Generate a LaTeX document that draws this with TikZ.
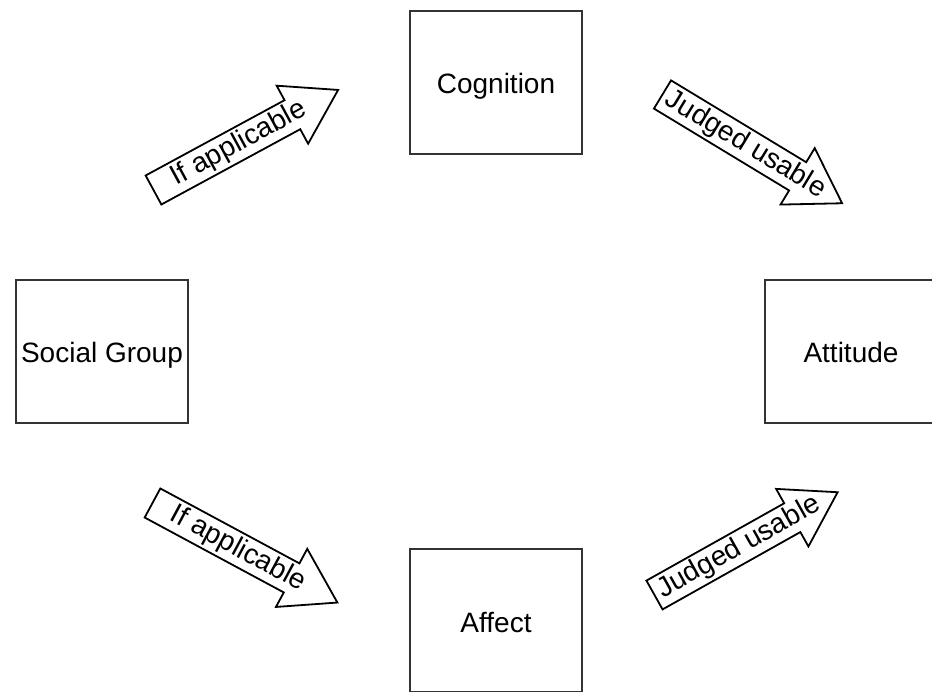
\documentclass[tikz,border=0pt]{standalone}
\usepackage{fontspec}
\setmainfont{Liberation Sans}
\tikzset{
  conceptbox/.style={draw=black!80, line width=2pt, minimum width=172pt, minimum height=143pt,
    inner sep=0pt, text height=25pt, text depth=2pt, font=\fontsize{28}{32}\selectfont, fill=white},
  arrowline/.style={draw=black, line width=1.8pt, line join=miter, fill=white},
  arrowtext/.style={font=\fontsize{28}{32}\selectfont, inner sep=0pt, anchor=center}
}
% block arrow: name, tail-middle x, y, angle, text
\newcommand{\blockarrow}[5]{%
  \begin{scope}[shift={(#2,#3)}, rotate=#4, transform shape]
    \coordinate (#1-tail) at (0,0);
    \coordinate (#1-tip) at (210,0);
    \draw[arrowline] (0,-16.5) -- (158,-16.5) -- (158,-33) -- (#1-tip) -- (158,33) -- (158,16.5) -- (0,16.5) -- cycle;
    \node[arrowtext] (#1) at (97,0) {#5};
  \end{scope}}
\begin{document}
\begin{tikzpicture}[x=1pt,y=1pt]
  \clip (0,0) rectangle (932,-692);
  \fill[white] (0,0) rectangle (932,-692);
  \node[conceptbox] (cog) at (496,-82.5) {Cognition};
  \node[conceptbox] (aff) at (496,-620.5) {Affect};
  \node[conceptbox] (soc) at (102,-351.5) {Social Group};
  \node[conceptbox] (att) at (851,-351.5) {Attitude};
  \blockarrow{a1}{153.5}{-190}{28.46}{If applicable}
  \blockarrow{a2}{662.5}{-94.5}{-31.2}{Judged usable}
  \blockarrow{a3}{152.5}{-503}{-28.3}{If applicable}
  \blockarrow{a4}{654.5}{-595}{29.3}{Judged usable}
\end{tikzpicture}
\end{document}
